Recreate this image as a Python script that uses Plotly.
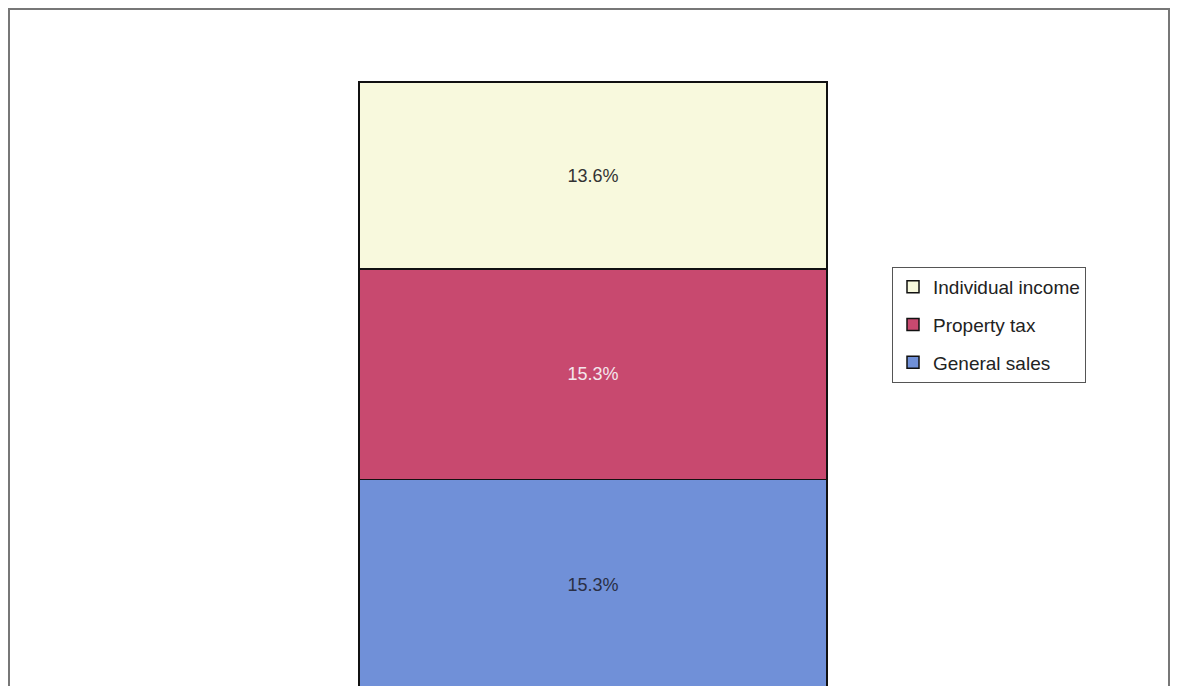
import plotly.graph_objects as go

categories = [""]
series_names = ["General sales", "Property tax", "Individual income"]
general_sales = [15.3]
property_tax = [15.3]
individual_income = [13.6]
values = [general_sales, property_tax, individual_income]
fill_colors = ["#7090D8", "#C8496F", "#F8F9DD"]
text_colors = ["#2a2f45", "#F4E6EC", "#333333"]
legend_ranks = [3, 2, 1]

W, H = 1162, 678  # page body adds an 8px margin

fig = go.Figure()
for i, (name, vals) in enumerate(zip(series_names, values)):
    fig.add_trace(go.Bar(
        x=[0], y=vals, name=name,
        marker=dict(color=fill_colors[i], line=dict(color="#111111", width=1.5)),
        text=[f"{v:.1f}%" for v in vals], textposition="inside",
        insidetextanchor="middle",
        textfont=dict(family="Arial, Liberation Sans", size=18, color=text_colors[i]),
        width=0.8, legendgroup=name, legendrank=legend_ranks[i], hoverinfo="skip",
    ))

fig.update_layout(
    barmode="stack",
    width=W, height=H,
    margin=dict(l=0, r=0, t=0, b=0),
    paper_bgcolor="white", plot_bgcolor="white",
    xaxis=dict(range=[-1.0, (W - 585) / 585], visible=False, fixedrange=True),
    yaxis=dict(range=[0.29, 49.58], visible=False, fixedrange=True),
    showlegend=True,
    legend=dict(
        x=884/W, y=1 - 259/H, xanchor="left", yanchor="top",
        bordercolor="#555555", borderwidth=1, bgcolor="white",
        font=dict(family="Arial, Liberation Sans", size=19, color="#222222"),
        traceorder="grouped", tracegroupgap=10,
        itemwidth=30,
    ),
    shapes=[dict(type="rect", xref="paper", yref="paper",
                 x0=1/W, x1=(W - 1)/W, y0=-0.05, y1=1 - 1/H,
                 line=dict(color="#777777", width=2), layer="below")],
)

fig.write_html("out.html")
